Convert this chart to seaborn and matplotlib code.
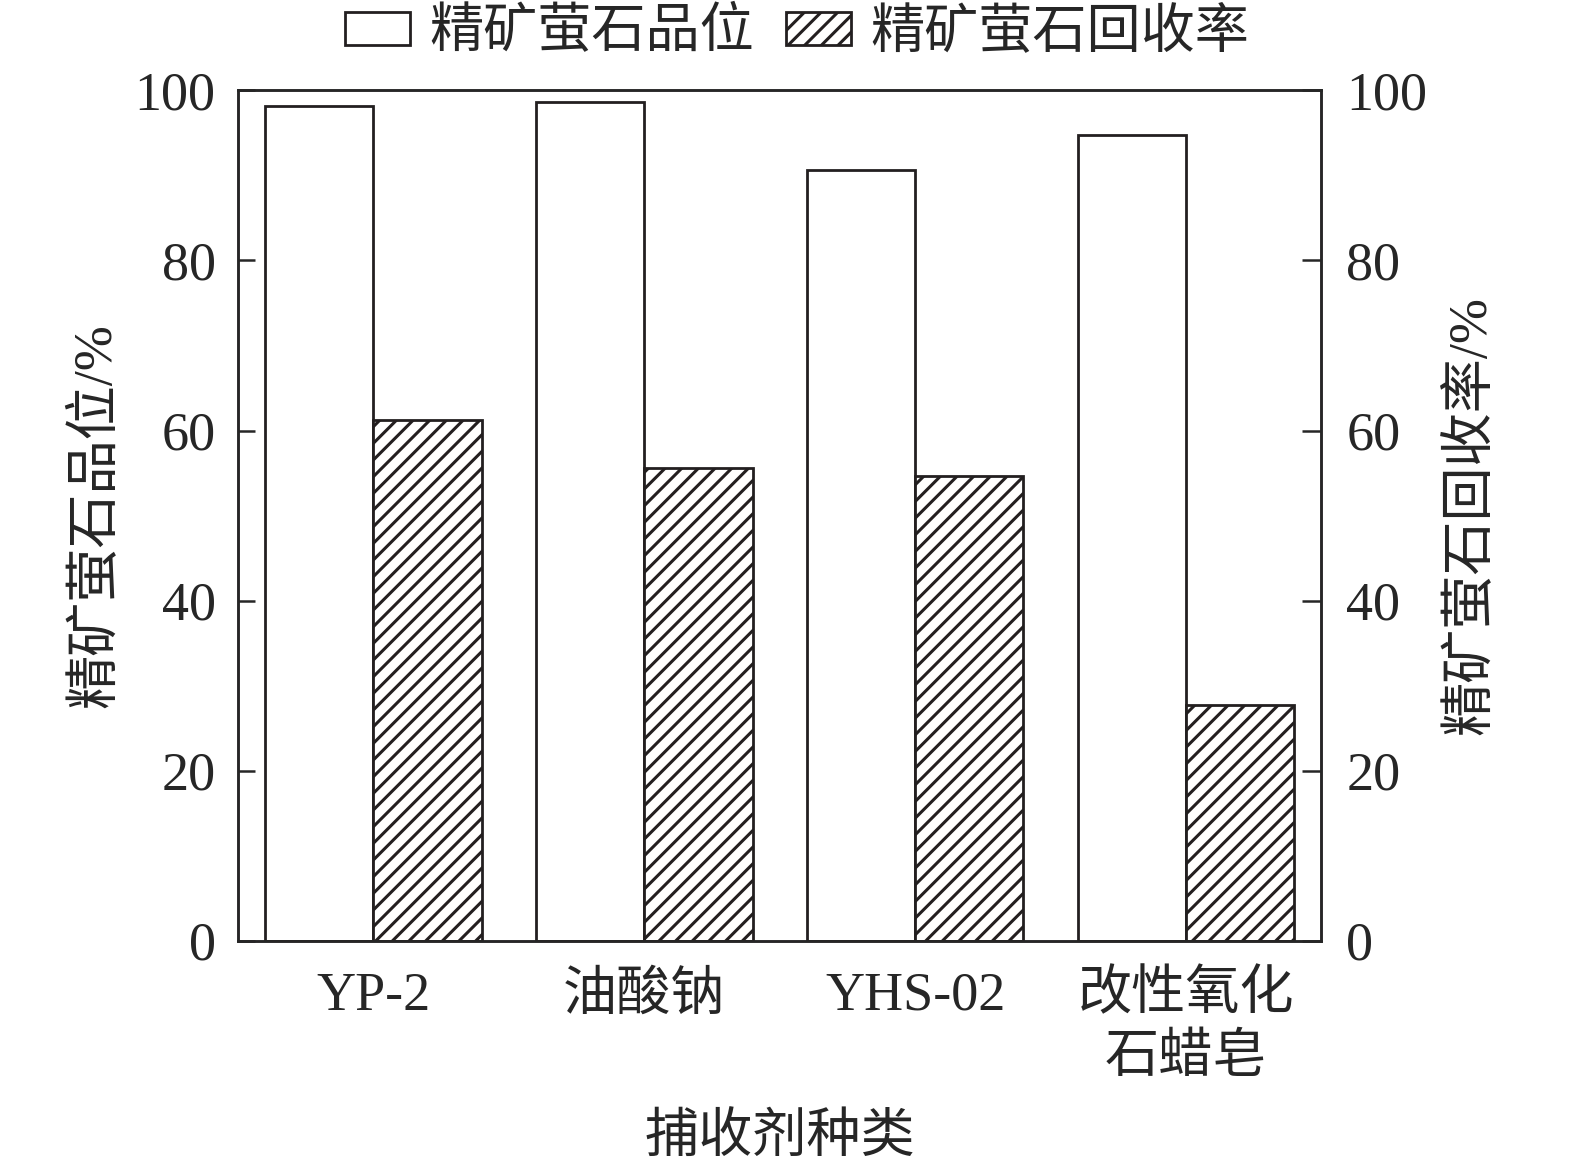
import matplotlib
matplotlib.use('Agg')
import matplotlib.pyplot as plt
import numpy as np
import pandas as pd
import seaborn as sns
from matplotlib.patches import Patch

collectors = ['YP-2', '油酸钠', 'YHS-02', '改性氧化\n石蜡皂']
grade = [98.2, 98.6, 90.7, 94.8]
recovery = [61.2, 55.6, 54.7, 27.7]
series = ['精矿萤石品位', '精矿萤石回收率']

sns.set_style('ticks')
plt.rcParams['font.family'] = ['Liberation Serif', 'Noto Sans CJK SC']
plt.rcParams['hatch.linewidth'] = 2.2
plt.rcParams['axes.linewidth'] = 1.8

df = pd.DataFrame({
    'collector': collectors * 2,
    'value': grade + recovery,
    'series': [series[0]] * 4 + [series[1]] * 4,
})

ink = '#231f20'
fig = plt.figure(figsize=(15.75, 11.67), dpi=100)
ax = fig.add_axes([0.151, 0.194, 0.688, 0.7285])

sns.barplot(data=df, x='collector', y='value', hue='series', order=collectors,
            hue_order=series, palette=['white', 'white'], edgecolor=ink,
            linewidth=2.0, width=0.8, gap=0, ax=ax, legend=False)

for cont, h in zip(ax.containers, ['', '//']):
    for p in cont:
        p.set_hatch(h)

ax.set_xlim(-0.5, 3.5)
ax.set_ylim(0, 100)
ax.set_yticks(np.arange(0, 101, 20))
ax.tick_params(axis='y', direction='in', length=12, width=1.8, labelsize=39, pad=16)
ax.tick_params(axis='x', length=0, labelsize=39, pad=22)
for lab in ax.get_xticklabels():
    lab.set_linespacing(1.3)
ax.set_ylabel('精矿萤石品位/%', fontsize=39, va='center')
ax.yaxis.set_label_coords(-0.13, 0.5)
ax.set_xlabel('捕收剂种类', fontsize=39, va='center')
ax.xaxis.set_label_coords(0.5, -0.234)
for s in ax.spines.values():
    s.set_color(ink)

ax2 = ax.twinx()
ax2.set_ylim(0, 100)
ax2.set_yticks(np.arange(0, 101, 20))
ax2.tick_params(axis='y', direction='in', length=14, width=1.8, labelsize=39, pad=18)
ax2.set_ylabel('精矿萤石回收率/%', fontsize=39, rotation=90, va='center')
ax2.yaxis.set_label_coords(1.138, 0.5)

handles = [Patch(facecolor='white', edgecolor=ink, linewidth=2.0, label=series[0]),
           Patch(facecolor='white', edgecolor=ink, linewidth=2.0, hatch='//', label=series[1])]
fig.legend(handles=handles, loc='center', bbox_to_anchor=(0.506, 0.971), ncol=2,
           frameon=False, fontsize=39, handlelength=1.2, handleheight=0.55,
           handletextpad=0.35, columnspacing=0.6, borderaxespad=0, borderpad=0)

fig.savefig('out.png', dpi=100)
